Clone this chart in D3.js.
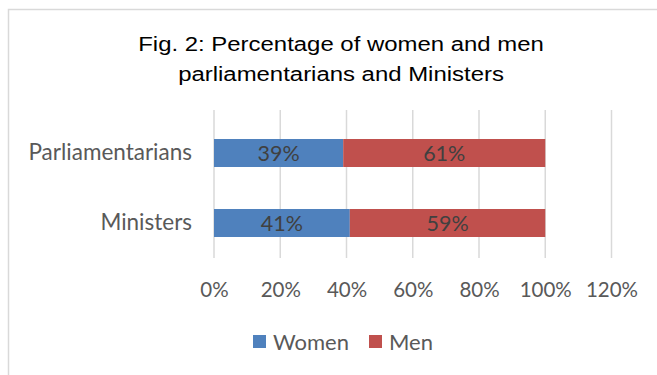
<!DOCTYPE html>
<html>
<head>
<meta charset="utf-8">
<script src="https://d3js.org/d3.v7.min.js"></script>
<style>
  body { margin: 0; background: #fff; }
  svg { display: block; }
</style>
</head>
<body>
<svg id="chart"></svg>
<script>
var categories = ["Parliamentarians", "Ministers"];
var seriesNames = ["Women", "Men"];
var women = [0.39, 0.41];
var men = [0.61, 0.59];
var xTicks = [0, 0.2, 0.4, 0.6, 0.8, 1.0, 1.2];
var titleLines = ["Fig. 2: Percentage of women and men", "parliamentarians and Ministers"];

var width = 657, height = 375;
var colors = ["#4f81bd", "#c0504d"];
var labelFont = "Lato, 'Open Sans', sans-serif";

var svg = d3.select("#chart")
    .attr("width", width)
    .attr("height", height);

// chart border (only left/top visible in the crop)
svg.append("rect")
    .attr("x", 8.5)
    .attr("y", 9.5)
    .attr("width", 700)
    .attr("height", 400)
    .attr("fill", "#fff")
    .attr("stroke", "#d9d9d9")
    .attr("stroke-width", 1.5);

// title is a bit wider than tall in the original, so stretch x
svg.append("text")
    .attr("text-anchor", "middle")
    .attr("transform", "translate(341,0) scale(1.14,1)")
    .attr("font-family", "'Liberation Sans', Arial, sans-serif")
    .attr("font-size", "21px")
    .attr("fill", "#000")
  .selectAll("tspan")
  .data(titleLines)
  .enter()
  .append("tspan")
    .attr("x", 0)
    .attr("y", (d, i) => 51 + i * 30)
    .text(d => d);

var x = d3.scaleLinear()
    .domain([0, 1.2])
    .range([214, 611.5]);

var y = d3.scaleBand()
    .domain(categories)
    .range([118, 258])
    .paddingInner(0.6)
    .paddingOuter(0.3);

// gridlines
svg.append("g")
  .selectAll("line")
  .data(xTicks)
  .enter()
  .append("line")
    .attr("x1", d => x(d))
    .attr("x2", d => x(d))
    .attr("y1", 110)
    .attr("y2", 258)
    .attr("stroke", "#d9d9d9")
    .attr("stroke-width", 1.5);

var stacked = categories.map((c, i) => [
  { cat: c, series: 0, x0: 0, x1: women[i], v: women[i] },
  { cat: c, series: 1, x0: women[i], x1: women[i] + men[i], v: men[i] }
]).flat();

svg.append("g")
  .selectAll("rect")
  .data(stacked)
  .enter()
  .append("rect")
    .attr("x", d => x(d.x0))
    .attr("y", d => y(d.cat))
    .attr("width", d => x(d.x1) - x(d.x0))
    .attr("height", y.bandwidth())
    .attr("fill", d => colors[d.series]);

svg.append("g")
  .selectAll("text")
  .data(stacked)
  .enter()
  .append("text")
    .attr("x", d => (x(d.x0) + x(d.x1)) / 2)
    .attr("y", d => y(d.cat) + y.bandwidth() / 2)
    .attr("dy", "0.36em")
    .attr("text-anchor", "middle")
    .attr("font-family", labelFont)
    .attr("font-size", "21.5px")
    .attr("fill", "#404040")
    .text(d => d3.format(".0%")(d.v));

// category axis
var yAxis = svg.append("g")
    .attr("transform", "translate(214,0)")
    .call(d3.axisLeft(y).tickSize(0).tickPadding(22));
yAxis.select(".domain").remove();
yAxis.selectAll("text")
    .attr("font-family", labelFont)
    .attr("font-size", "22.5px")
    .attr("fill", "#595959");

// value axis
var xAxis = svg.append("g")
    .attr("transform", "translate(0,258)")
    .call(d3.axisBottom(x).tickValues(xTicks).tickFormat(d3.format(".0%")).tickSize(0).tickPadding(24));
xAxis.select(".domain").remove();
xAxis.selectAll("text")
    .attr("font-family", labelFont)
    .attr("font-size", "20.5px")
    .attr("fill", "#595959");

// legend
var legend = svg.append("g")
  .selectAll("g")
  .data(seriesNames)
  .enter()
  .append("g")
    .attr("transform", (d, i) => "translate(" + [253, 369][i] + ",335)");

legend.append("rect")
    .attr("width", 13)
    .attr("height", 13)
    .attr("fill", (d, i) => colors[i]);

legend.append("text")
    .attr("x", 20)
    .attr("y", 7)
    .attr("dy", "0.36em")
    .attr("font-family", labelFont)
    .attr("font-size", "22px")
    .attr("fill", "#595959")
    .text(d => d);
</script>
</body>
</html>
